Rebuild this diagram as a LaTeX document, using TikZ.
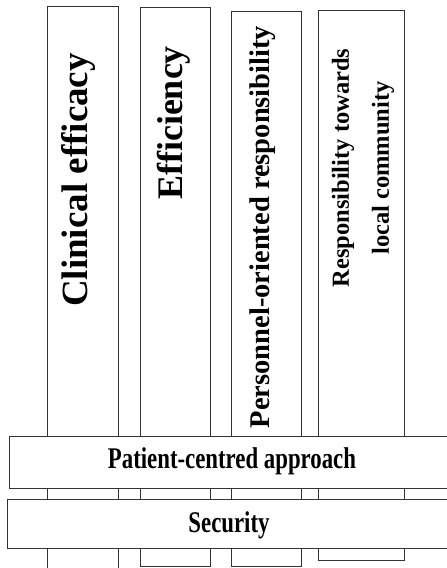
\documentclass[tikz,border=0pt]{standalone}
\usepackage{fontspec}
\setmainfont{Liberation Serif}
\usetikzlibrary{positioning}
\tikzset{
  pillar/.style={draw=black!80, line width=1.2pt, fill=white, inner sep=0pt, anchor=north west},
  bar/.style={draw=black!80, line width=1.2pt, fill=white, inner sep=0pt, anchor=north west, minimum width=460pt},
  vlabel/.style={rotate=90, inner sep=0pt, font=\bfseries},
  hlabel/.style={xscale=0.76, inner sep=0pt, font=\bfseries\fontsize{30}{30}\selectfont}
}
\begin{document}
\begin{tikzpicture}[x=1pt,y=-1pt]
\useasboundingbox (0,0) rectangle (447,568);
\clip (0,0) rectangle (447,568);
\node[pillar, minimum width=71pt, minimum height=620pt] (clin) at (47,6) {};
\node[pillar, minimum width=70pt, minimum height=559pt] (effi) at (140,7) {};
\node[pillar, minimum width=70pt, minimum height=555pt] (pers) at (231,11) {};
\node[pillar, minimum width=86pt, minimum height=550pt] (comm) at (318,10) {};
\node[vlabel, font=\bfseries\fontsize{37}{37}\selectfont] (clintxt) at (78,180) {Clinical efficacy};
\node[vlabel, font=\bfseries\fontsize{36}{36}\selectfont] (effitxt) at (174,123) {Efficiency};
\node[vlabel, font=\bfseries\fontsize{28.5}{28.5}\selectfont] (perstxt) at (263,227) {Personnel-oriented responsibility};
\node[vlabel, align=center, font=\bfseries\fontsize{24.5}{40}\selectfont] (commtxt) at (363,168) {Responsibility towards\\local community};
\node[bar, minimum height=52pt] (patient) at (9,436) {};
\node[bar, minimum height=49pt] (secur) at (7,499) {};
\node[hlabel] (patienttxt) at (232,461) {Patient-centred approach};
\node[hlabel] (securtxt) at (229,525) {Security};
\end{tikzpicture}
\end{document}
